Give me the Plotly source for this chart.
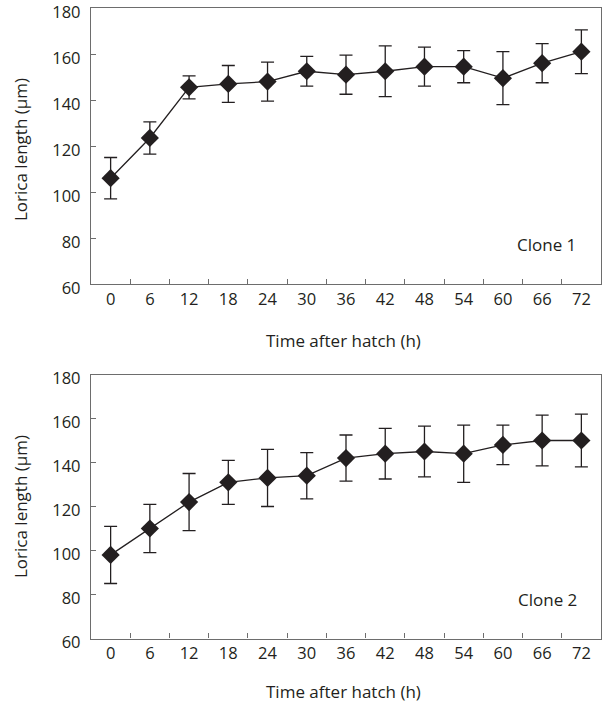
import plotly.graph_objects as go

# Sampling times after hatch (h), shown as categories
hours = ["0", "6", "12", "18", "24", "30", "36", "42", "48", "54", "60", "66", "72"]

# Clone 1: mean lorica length and SD (µm)
clone1_mean = [106, 123.5, 145.5, 147, 148, 152.5, 151, 152.5, 154.5, 154.5, 149.5, 156, 161]
clone1_sd = [9, 7, 5, 8, 8.5, 6.5, 8.5, 11, 8.5, 7, 11.5, 8.5, 9.5]

# Clone 2: mean lorica length and SD (µm)
clone2_mean = [98, 110, 122, 131, 133, 134, 142, 144, 145, 144, 148, 150, 150]
clone2_sd = [13, 11, 13, 10, 13, 10.5, 10.5, 11.5, 11.5, 13, 9, 11.5, 12]

W, H = 603, 704
FONT = "Open Sans, Noto Sans, sans-serif"
INK = "#231f20"
FRAME = "#6d6d6d"

fig = go.Figure()


def add_series(mean, sd, xa, ya):
    fig.add_trace(go.Scatter(
        x=hours, y=mean, xaxis=xa, yaxis=ya,
        mode="lines+markers",
        line=dict(color=INK, width=1.3),
        marker=dict(symbol="diamond", size=14, color=INK),
        error_y=dict(type="data", array=sd, visible=True,
                     color=INK, thickness=1.3, width=6.5),
        showlegend=False,
    ))


add_series(clone1_mean, clone1_sd, "x", "y")
add_series(clone2_mean, clone2_sd, "x2", "y2")

x_dom = [91 / W, 601 / W]
top_dom = [1 - 284 / H, 1 - 8 / H]
bot_dom = [1 - 638.5 / H, 1 - 374.5 / H]

tick_font = dict(family=FONT, size=16.5, color=INK)

xcommon = dict(
    type="category", categoryorder="array", categoryarray=hours,
    range=[-0.5, len(hours) - 0.5],
    tickson="boundaries", ticks="inside", ticklen=5, tickcolor=FRAME,
    showline=True, linecolor=FRAME, linewidth=1.3, mirror=True,
    showgrid=False, zeroline=False, automargin=False,
    ticklabeloverflow="allow",
    tickfont=tick_font, domain=x_dom, fixedrange=True,
)
ycommon = dict(
    range=[60, 180], dtick=20, tick0=60,
    ticks="inside", ticklen=5, tickcolor=FRAME,
    showline=True, linecolor=FRAME, linewidth=1.3, mirror=True,
    showgrid=False, zeroline=False, automargin=False,
    ticklabeloverflow="allow", ticklabelshift=4,
    tickfont=tick_font, ticklabelstandoff=6, fixedrange=True,
)

fig.update_layout(
    width=W, height=H,
    margin=dict(l=0, r=0, t=0, b=0, autoexpand=False),
    paper_bgcolor="white", plot_bgcolor="white",
    xaxis=dict(xcommon, anchor="y"),
    yaxis=dict(ycommon, domain=top_dom, anchor="x"),
    xaxis2=dict(xcommon, anchor="y2"),
    yaxis2=dict(ycommon, domain=bot_dom, anchor="x2"),
)

label_font = dict(family=FONT, size=17, color=INK)
annotations = [
    dict(text="Time after hatch (h)", x=343 / W, y=1 - 340 / H, yanchor="middle"),
    dict(text="Time after hatch (h)", x=343 / W, y=0, yanchor="bottom"),
    dict(text="Lorica length (µm)", x=20 / W, y=1 - 150 / H, textangle=-90, yanchor="middle"),
    dict(text="Lorica length (µm)", x=20 / W, y=1 - 507 / H, textangle=-90, yanchor="middle"),
    dict(text="Clone 1", x=546.5 / W, y=1 - 244 / H, yanchor="middle"),
    dict(text="Clone 2", x=547 / W, y=1 - 599 / H, yanchor="middle"),
]
for a in annotations:
    fig.add_annotation(xref="paper", yref="paper", showarrow=False, borderpad=0,
                       xanchor="center", font=label_font, **a)

fig.write_html("out.html")
